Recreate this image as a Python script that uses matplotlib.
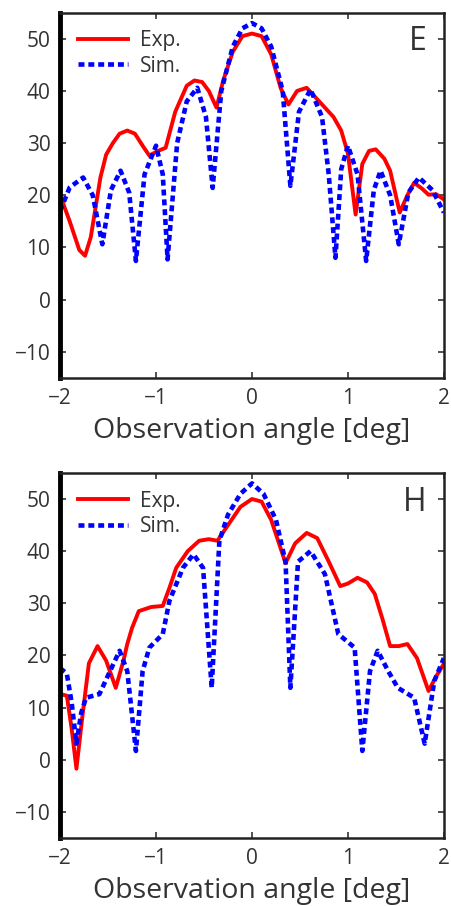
'''
plot.py

Far-field patterns in the E and H planes: measured vs simulated.
'''

import matplotlib
matplotlib.use('Agg')
import matplotlib.pyplot as plt

plt.rcParams['font.family'] = ['Open Sans', 'DejaVu Sans']

# E plane, measured
e_exp_x = [-2.0, -1.9, -1.8, -1.74, -1.68, -1.58, -1.52, -1.45, -1.38, -1.3, -1.22, -1.14,
           -1.07, -0.98, -0.9, -0.8, -0.68, -0.6, -0.52, -0.45, -0.37, -0.3, -0.2, -0.1,
           0.0, 0.1, 0.2, 0.3, 0.38, 0.47, 0.57, 0.7, 0.85, 0.93, 1.0, 1.08, 1.15, 1.22,
           1.29, 1.38, 1.44, 1.54, 1.62, 1.69, 1.77, 1.84, 1.92, 2.0]
e_exp_y = [20, 15, 9.5, 8.4, 12, 23.4, 27.8, 30, 31.8, 32.4, 31.8, 29.5, 27.6, 28.5, 29.1,
           36, 41, 42, 41.7, 40, 36.8, 42, 47.5, 50.5, 51, 50.5, 47, 40.5, 37.4, 40, 40.6,
           38, 35, 32.4, 28, 16.3, 26, 28.5, 28.8, 27, 24.7, 16.7, 20, 22.4, 21.3, 20.1,
           20.2, 19.2]

# E plane, simulated
e_sim_x = [-2.0, -1.9, -1.76, -1.66, -1.56, -1.47, -1.37, -1.28, -1.21, -1.12, -1.0,
           -0.93, -0.88, -0.78, -0.68, -0.57, -0.48, -0.41, -0.32, -0.2, -0.1, 0.0, 0.1,
           0.2, 0.32, 0.40, 0.49, 0.61, 0.73, 0.80, 0.87, 0.93, 1.0, 1.10, 1.19, 1.27,
           1.34, 1.44, 1.53, 1.63, 1.74, 1.88, 2.0]
e_sim_y = [17, 21.5, 23.4, 20, 10.6, 21, 24.7, 20.5, 7.4, 24, 29.5, 24, 7.7, 30, 38,
           40.6, 35, 21.4, 40, 48.5, 52, 53, 52, 48.5, 40, 21.8, 36, 40.3, 35, 24, 8.0,
           25, 29.5, 24, 7.4, 21, 24.7, 20, 10.6, 20.5, 23.4, 21, 16.7]

# H plane, measured
h_exp_x = [-2.0, -1.93, -1.88, -1.83, -1.77, -1.7, -1.61, -1.52, -1.42, -1.34, -1.3,
           -1.25, -1.18, -1.05, -0.93, -0.86, -0.79, -0.67, -0.55, -0.45, -0.36, -0.25,
           -0.12, 0.0, 0.1, 0.2, 0.35, 0.45, 0.57, 0.68, 0.8, 0.92, 1.0, 1.1, 1.2, 1.28,
           1.36, 1.44, 1.53, 1.62, 1.72, 1.84, 1.92, 2.0]
h_exp_y = [12.6, 12.3, 6, -1.7, 8, 18.5, 21.8, 19, 13.8, 19, 22.2, 25.3, 28.5, 29.3,
           29.5, 33, 36.8, 40, 42, 42.3, 42, 45, 48.5, 50, 49.5, 46, 37.7, 41.5, 43.5,
           42.5, 38, 33.3, 33.8, 34.9, 34, 31.8, 27, 21.8, 21.8, 22.2, 19.5, 13.2, 16,
           18.4]

# H plane, simulated
h_sim_x = [-2.0, -1.93, -1.88, -1.83, -1.78, -1.73, -1.59, -1.48, -1.38, -1.30, -1.21,
           -1.14, -1.07, -0.93, -0.86, -0.72, -0.61, -0.51, -0.42, -0.34, -0.25, -0.12,
           0.0, 0.12, 0.25, 0.35, 0.40, 0.48, 0.61, 0.76, 0.90, 1.07, 1.15, 1.23, 1.31,
           1.42, 1.52, 1.69, 1.80, 1.90, 2.0]
h_sim_y = [17.6, 16.5, 11, 3.1, 9, 11.9, 12.6, 17, 20.9, 17, 1.7, 17, 21.5, 24.1, 30.5,
           36.8, 39.4, 36.8, 13.8, 42, 47, 51, 53, 51, 46, 37.9, 13.8, 38, 40, 35.6,
           24.1, 21.5, 1.7, 17, 20.9, 17, 13.8, 11.9, 3.1, 15.1, 19.5]

x_ticks = [-2, -1, 0, 1, 2]
y_ticks = [-10, 0, 10, 20, 30, 40, 50]


def draw_panel(ax, exp_x, exp_y, sim_x, sim_y, tag):
    ax.plot(exp_x, exp_y, color='#ff0000', lw=2.8, solid_joinstyle='round',
            label='Exp.')
    ax.plot(sim_x, sim_y, color='#0000ff', lw=3.3, dashes=(1.3, 0.85),
            dash_capstyle='butt', label='Sim.')
    ax.set_xlim(-2, 2)
    ax.set_ylim(-15, 55)
    ax.set_xticks(x_ticks)
    ax.set_yticks(y_ticks)
    ax.tick_params(direction='in', top=True, right=True, length=4, width=1.2,
                   labelsize=15, colors='#333333', pad=7)
    for s in ax.spines.values():
        s.set_linewidth(1.8)
        s.set_color('#222222')
    ax.spines['left'].set_linewidth(3.5)
    ax.spines['left'].set_color('#000000')
    ax.set_xlabel('Observation angle [deg]', fontsize=20.5, color='#333333',
                  labelpad=6)
    ax.text(0.955, 0.965, tag, transform=ax.transAxes, ha='right', va='top',
            fontsize=23, color='#333333')
    ax.legend(loc='upper left', frameon=False, fontsize=15, handlelength=2.4,
              handletextpad=0.6, borderaxespad=0.45, labelspacing=0.2,
              labelcolor='#333333')


def main():
    fig = plt.figure(figsize=(4.52, 9.06), dpi=100)
    ax1 = fig.add_axes([0.133, 0.583, 0.849, 0.403])
    ax2 = fig.add_axes([0.133, 0.075, 0.849, 0.403])
    draw_panel(ax1, e_exp_x, e_exp_y, e_sim_x, e_sim_y, 'E')
    draw_panel(ax2, h_exp_x, h_exp_y, h_sim_x, h_sim_y, 'H')
    fig.savefig('out.png', dpi=100)


if __name__ == '__main__':
    main()
